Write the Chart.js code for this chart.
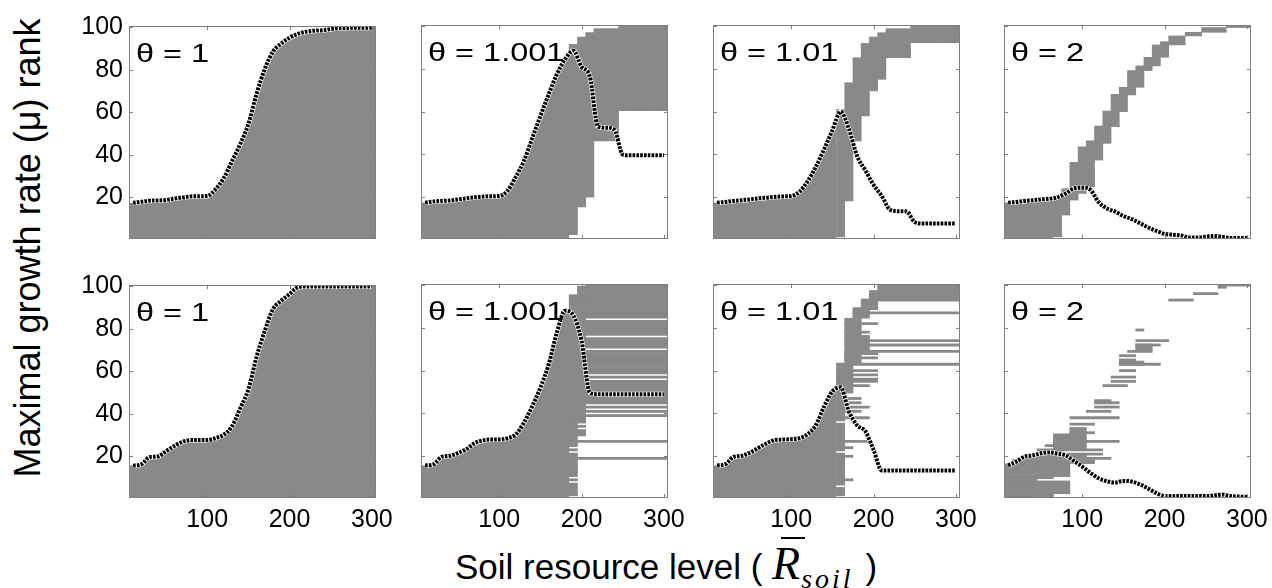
<!DOCTYPE html>
<html>
<head>
<meta charset="utf-8">
<title>Maximal growth rate rank vs soil resource level</title>
<script src="https://cdn.jsdelivr.net/npm/chart.js@4.4.1/dist/chart.umd.min.js"></script>
<style>
  body { margin: 0; background: #fff; }
  #fig { position: relative; width: 1272px; height: 588px; overflow: hidden; font-family: 'Liberation Sans', Arial, sans-serif; color: #000; }
  #fig canvas { position: absolute; }
  #ytitle { position: absolute; left: 28px; top: 248px; font-size: 36px; line-height: 1; white-space: nowrap;
            transform: translate(-50%, -50%) rotate(-90deg); }
  #xtitle { position: absolute; left: 455px; top: 541px; display: flex; align-items: baseline; white-space: pre;
            font-size: 35px; line-height: 1; }
  .rbar { font: italic 46px 'Liberation Serif', serif; line-height: 1; position: relative; }
  .rbar::before { content: ''; position: absolute; left: 9px; width: 24px; top: -4px; height: 2px; background: #000; }
  .soil { font: italic 28px 'Liberation Serif', serif; line-height: 1; letter-spacing: 3px; position: relative; top: 9px; margin: 0 2px 0 1px; }
</style>
</head>
<body>
<div id="fig">
  <div id="ytitle">Maximal growth rate (μ) rank</div>
  <div id="xtitle"><span>Soil resource level ( </span><span class="rbar">R</span><span class="soil">soil</span><span> )</span></div>
</div>
<script>
// soil resource levels where the curves are read
const resource = [10, 20, 30, 40, 50, 60, 70, 80, 90, 100, 110, 120, 130, 140, 150,
                  160, 170, 180, 190, 200, 210, 220, 230, 240, 250, 260, 270, 280, 290, 300];
const xTicks = [100, 200, 300];
const yTicks = [20, 40, 60, 80, 100];
const thetas = ['θ = 1', 'θ = 1.001', 'θ = 1.01', 'θ = 2'];

// dotted curves, top row
const topCurve1 = [17.5, 18, 18.5, 18.6, 18.8, 19.5, 20, 20.5, 20.6, 20.7, 23.8, 29, 37, 45, 54.5,
                   68.7, 80.4, 88.5, 92.3, 95, 96.8, 97.8, 98.3, 98.5, 99, 99.5, 99.6, 99.7, 99.7, 99.7];
const topCurve2 = [17.5, 18, 18.3, 18.5, 19, 19.5, 20, 20.3, 20.5, 20.6, 23, 29.4, 37, 47.5, 58,
                   68, 77.5, 84.5, 88.5, 81, 76.5, 53, 52.5, 51.5, 40, 39.6, 39.6, 39.6, 39.6, 39.6];
const topCurve3 = [17.5, 17.8, 18.3, 18.6, 19, 19.5, 19.8, 20.2, 20.4, 20.6, 22.6, 27.5, 34.3, 42.5, 51.3,
                   60, 52, 39.3, 32.6, 25.8, 20.6, 14.2, 13.5, 13.4, 8.4, 7.7, 7.7, 7.7, 7.7, 7.7];
const topCurve4 = [17.5, 17.8, 18.3, 18.6, 19, 19.3, 20, 21.8, 24.1, 24.5, 23.5, 17.7, 14.8, 13.3, 11.2,
                   9.8, 7.9, 5.9, 4.3, 2.9, 2.5, 2.2, 1.2, 1.2, 1.6, 1.9, 1.5, 1, 1, 1];
// dotted curves, bottom row
const botCurve1 = [15.7, 16.3, 19.7, 20, 22.5, 24.9, 26.9, 27.7, 27.7, 27.7, 28.6, 30.2, 34.1, 42.5, 51.5,
                   66.8, 79.1, 89.3, 93.1, 96.3, 99.4, 99.8, 99.8, 99.8, 99.8, 99.8, 99.8, 99.8, 99.8, 99.8];
const botCurve2 = [15.7, 16.2, 19.7, 20.2, 21.5, 23.3, 26.1, 27.4, 27.8, 27.8, 28.4, 30.2, 35.7, 43.3, 52.1,
                   62.8, 77.8, 88, 85.8, 74, 49.8, 49, 49, 49, 49, 49, 49, 49, 49, 49];
const botCurve3 = [15.7, 16.3, 19.7, 20.2, 21.7, 23.9, 26, 27.6, 27.8, 28, 28.5, 30.3, 34.6, 43.3, 50.3,
                   52.2, 41, 34.5, 31.7, 23, 13.4, 13.4, 13.4, 13.4, 13.4, 13.4, 13.4, 13.4, 13.4, 13.4];
const botCurve4 = [15.7, 17.5, 19.8, 20.4, 21.4, 21.8, 21.2, 20.4, 17.8, 15.2, 12.2, 9.7, 8.3, 7.7, 8.5,
                   8.2, 6.9, 4.9, 2.8, 1.4, 1.4, 1.4, 1.4, 1.4, 1.4, 1.7, 2.1, 1.4, 1.2, 1];

// grey fill below the curve stops at [resource, rank]
const topFillEnd = [[305, 99.7], [185, 87], [155, 57], [65, 19.5]];
const botFillEnd = [[305, 99.8], [185, 88.4], [155, 52.5], null];

// top row grey columns: [resource, rank from, rank to]
const topCols1 = [];
const topCols2 = [
  [190, 2.5, 91.5], [200, 15.5, 94.9], [210, 20, 96.9],
  [220, 46.3, 98.8], [230, 46.3, 98.8], [240, 46.3, 98.8],
  [250, 60.5, 100.5], [260, 60.5, 100.5], [270, 60.5, 100.5],
  [280, 60.5, 100.5], [290, 60.5, 100.5], [300, 60.5, 100.5]
];
const topCols3 = [
  [160, 1.5, 61], [170, 18.3, 73.5], [180, 46.3, 85.2], [190, 58, 91.9],
  [200, 69.7, 94.9], [210, 75.1, 96.9], [220, 85.2, 98.8], [230, 85.2, 98.8], [240, 85.2, 98.8],
  [250, 92.2, 100.5], [260, 92.2, 100.5], [270, 92.2, 100.5],
  [280, 92.2, 100.5], [290, 92.2, 100.5], [300, 92.2, 100.5]
];
const topCols4 = [
  [70, 1.5, 20], [80, 11.7, 24], [90, 18.7, 36.3], [100, 21.8, 43.6], [110, 24.9, 46.4],
  [120, 37.4, 53.3], [130, 45.2, 60.3], [140, 53, 68.1], [150, 60, 71.4], [160, 67.8, 79.2],
  [170, 71.4, 81.4], [180, 79.2, 85.4], [190, 81.4, 91.2], [200, 85.4, 92.7],
  [210, 91.2, 95.4], [220, 91.2, 95.4], [230, 95.4, 97.1], [240, 95.4, 97.1],
  [250, 97.1, 99.3], [260, 97.1, 99.3], [270, 97.1, 99.3],
  [280, 99.3, 100.5], [290, 99.3, 100.5], [300, 99.3, 100.5]
];

// bottom row grey ranks: [rank from, rank to, resource from, resource to]
const botBlocks1 = [];
const botBlocks2 = [
  [2, 7, 185, 195], [9, 9, 185, 195], [11, 21, 185, 195], [23, 23, 185, 195], [25, 95, 185, 195],
  [30, 32, 195, 205], [34, 34, 195, 205], [36, 99, 195, 205],
  [85, 100, 205, 305], [77, 83, 205, 305], [71, 75, 205, 305], [59, 69, 205, 305], [57, 57, 205, 305],
  [49, 55, 205, 305], [45, 48, 205, 305], [43, 43, 205, 305], [41, 41, 205, 305], [39, 39, 205, 305],
  [27, 27, 195, 305], [19, 19, 195, 305]
];
const botBlocks3 = [
  [93, 100, 205, 305], [89, 97, 195, 205], [85, 93, 185, 195], [85, 89, 175, 185], [87, 87, 175, 305],
  [77, 84, 165, 185], [82, 82, 165, 205], [78, 78, 165, 195], [69, 76, 165, 195],
  [74, 74, 165, 305], [72, 72, 165, 305], [69, 69, 165, 305],
  [64, 68, 165, 185], [68, 68, 165, 205], [66, 66, 165, 205], [63, 63, 155, 305],
  [50, 62, 155, 175], [60, 60, 155, 205], [58, 58, 155, 205], [56, 56, 155, 205], [55, 55, 155, 205],
  [53, 53, 155, 195],
  [2, 5, 155, 165], [7, 21, 155, 165], [23, 35, 155, 165], [37, 49, 155, 165],
  [47, 47, 155, 185], [45, 45, 155, 185], [43, 43, 155, 195], [41, 41, 155, 185], [38, 38, 155, 195],
  [27, 27, 155, 195], [24, 24, 155, 175], [20, 20, 155, 175], [9, 9, 155, 175]
];
const botBlocks4 = [
  [1, 16, 5, 45], [1, 8, 45, 65], [10, 16, 45, 65], [3, 8, 65, 85], [11, 16, 65, 85],
  [17, 17, 15, 115], [18, 18, 15, 115], [19, 19, 25, 135], [20, 20, 35, 105], [21, 21, 45, 125],
  [22, 22, 55, 75], [23, 23, 45, 125], [25, 25, 55, 105], [24, 30, 65, 105], [27, 27, 65, 145],
  [31, 33, 85, 105], [31, 31, 85, 115], [35, 35, 85, 115], [38, 38, 85, 145],
  [41, 41, 105, 135], [43, 43, 115, 145], [45, 46, 115, 135], [45, 45, 115, 145],
  [53, 53, 125, 155], [55, 55, 135, 165], [57, 57, 135, 165], [60, 60, 145, 165],
  [63, 64, 145, 175], [63, 63, 145, 195], [65, 65, 145, 165], [67, 67, 145, 165],
  [69, 69, 155, 185], [70, 72, 165, 185], [72, 72, 165, 195], [74, 74, 165, 205], [79, 79, 165, 175],
  [93, 93, 205, 235], [96, 96, 235, 265], [99, 100, 265, 275], [100, 100, 275, 305]
];

const GREY = '#898989';
const AXIS = '#7f7f7f';
const FONT = "'Liberation Sans', Arial, sans-serif";

// page layout of the 8 plot boxes
const PLOT_LEFT = [129, 421, 713, 1004];
const PLOT_TOP = [25, 284];
const PLOT_W = 247, PLOT_H = 214;
const PAD_L = 60, PAD_T = 20, PAD_R = 30, PAD_B = 45;

// MATLAB style box with inward ticks, plus the theta label
const boxPlugin = {
  id: 'matlabBox',
  afterDatasetsDraw(chart, args, opts) {
    const { ctx, chartArea: a, scales } = chart;
    ctx.save();
    ctx.strokeStyle = AXIS;
    ctx.lineWidth = 1;
    ctx.strokeRect(a.left + 0.5, a.top + 0.5, a.width - 1, a.height - 1);
    ctx.beginPath();
    yTicks.forEach(v => {
      const y = Math.round(scales.y.getPixelForValue(v)) + 0.5;
      ctx.moveTo(a.left, y); ctx.lineTo(a.left + 4, y);
      ctx.moveTo(a.right, y); ctx.lineTo(a.right - 4, y);
    });
    xTicks.forEach(v => {
      const x = Math.round(scales.x.getPixelForValue(v)) + 0.5;
      ctx.moveTo(x, a.bottom); ctx.lineTo(x, a.bottom - 4);
      ctx.moveTo(x, a.top); ctx.lineTo(x, a.top + 4);
    });
    ctx.stroke();
    ctx.fillStyle = '#000';
    ctx.font = '25px ' + FONT;
    ctx.textBaseline = 'alphabetic';
    ctx.translate(a.left + 7, a.top + 36);
    ctx.scale(1.3, 1);
    ctx.fillText(opts.label, 0, 0);
    ctx.restore();
  }
};

function addPanel(row, col, curve, fillEnd, grey, label) {
  const fig = document.getElementById('fig');
  const cv = document.createElement('canvas');
  cv.width = PAD_L + PLOT_W + PAD_R;
  cv.height = PAD_T + PLOT_H + PAD_B;
  cv.style.left = (PLOT_LEFT[col] - PAD_L) + 'px';
  cv.style.top = (PLOT_TOP[row] - PAD_T) + 'px';
  fig.appendChild(cv);

  const pts = resource.map((x, i) => ({ x, y: curve[i] }));
  const datasets = [];

  if (fillEnd) {
    const area = [{ x: 5, y: curve[0] }].concat(pts.filter(p => p.x < fillEnd[0]), [{ x: fillEnd[0], y: fillEnd[1] }]);
    datasets.push({ type: 'line', indexAxis: 'x', data: area, fill: 'start', backgroundColor: GREY,
      borderWidth: 0, borderColor: 'rgba(0,0,0,0)', pointRadius: 0, cubicInterpolationMode: 'monotone', order: 3 });
  }

  if (row === 0 && grey.length) {
    datasets.push({ type: 'bar', data: grey.map(c => ({ x: c[0], y: [c[1], c[2]] })),
      backgroundColor: GREY, borderWidth: 0, barPercentage: 1, categoryPercentage: 1, order: 2 });
  }
  if (row === 1 && grey.length) {
    const bars = [];
    grey.forEach(b => {
      for (let r = b[0]; r <= b[1]; r++) bars.push({ y: r, x: [b[2], b[3]] });
    });
    datasets.push({ type: 'bar', indexAxis: 'y', data: bars,
      backgroundColor: GREY, borderWidth: 0, barPercentage: 1, categoryPercentage: 1, order: 2 });
  }

  // dotted line: white base with black dashes on top
  datasets.push({ type: 'line', indexAxis: 'x', data: pts, borderColor: '#fff', borderWidth: 5,
    pointRadius: 0, fill: false, cubicInterpolationMode: 'monotone', order: 1 });
  datasets.push({ type: 'line', indexAxis: 'x', data: pts, borderColor: '#000', borderWidth: 4,
    borderDash: [2.6, 1.2], borderCapStyle: 'butt', pointRadius: 0, fill: false,
    cubicInterpolationMode: 'monotone', order: 0 });

  new Chart(cv, {
    type: 'bar',
    data: { datasets },
    options: {
      responsive: false,
      animation: false,
      devicePixelRatio: 1,
      layout: { padding: { left: 0, top: PAD_T, right: PAD_R, bottom: 0 } },
      plugins: { legend: { display: false }, tooltip: { enabled: false }, matlabBox: { label } },
      scales: {
        x: {
          type: 'linear', min: 5, max: 305, offset: false,
          grid: { display: false, drawTicks: false, offset: false }, border: { display: false },
          afterBuildTicks: s => { s.ticks = xTicks.map(v => ({ value: v })); },
          afterFit: s => { s.height = PAD_B; },
          ticks: { display: row === 1, padding: 7, color: '#000', autoSkip: false, maxRotation: 0,
                   font: { family: FONT, size: 25 } }
        },
        y: {
          type: 'linear', min: 0.5, max: 100.5, offset: false,
          grid: { display: false, drawTicks: false, offset: false }, border: { display: false },
          afterBuildTicks: s => { s.ticks = yTicks.map(v => ({ value: v })); },
          afterFit: s => { s.width = PAD_L; },
          ticks: { display: col === 0, padding: 6, color: '#000', autoSkip: false,
                   font: { family: FONT, size: 25 } }
        }
      }
    },
    plugins: [boxPlugin]
  });
}

const topCurves = [topCurve1, topCurve2, topCurve3, topCurve4];
const botCurves = [botCurve1, botCurve2, botCurve3, botCurve4];
const topCols = [topCols1, topCols2, topCols3, topCols4];
const botBlocks = [botBlocks1, botBlocks2, botBlocks3, botBlocks4];

for (let c = 0; c < 4; c++) {
  addPanel(0, c, topCurves[c], topFillEnd[c], topCols[c], thetas[c]);
  addPanel(1, c, botCurves[c], botFillEnd[c], botBlocks[c], thetas[c]);
}
</script>
</body>
</html>
